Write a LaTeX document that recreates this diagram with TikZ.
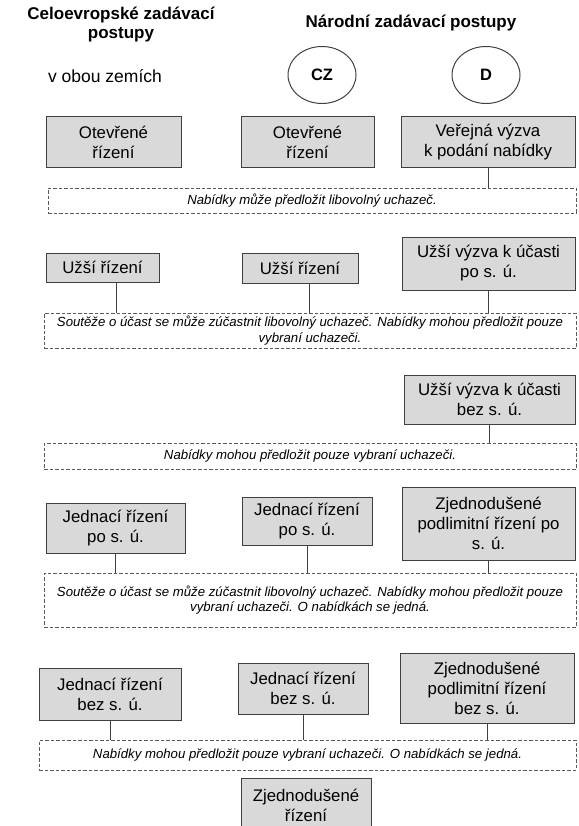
\documentclass[tikz,border=0pt]{standalone}
\usepackage{fontspec}
\setmainfont{Liberation Sans}
\usetikzlibrary{shapes.geometric,calc}
\definecolor{boxfill}{HTML}{D9D9D9}
\definecolor{edge}{HTML}{404040}
\definecolor{dashedge}{HTML}{5A5A5A}
\begin{document}
\begin{tikzpicture}[x=1pt,y=-1pt,
  proc/.style={draw=edge, fill=boxfill, line width=1pt, align=center, inner sep=0pt,
    font=\fontsize{16.8}{20}\selectfont},
  note/.style={draw=dashedge, dash pattern=on 3.5pt off 2pt, line width=0.8pt, align=center,
    inner sep=0pt, font=\fontsize{13.2}{15.5}\selectfont\itshape},
  link/.style={draw=edge, line width=1pt},
  flag/.style={ellipse, draw=edge, line width=1pt, inner sep=0pt,
    minimum width=68, minimum height=57, font=\fontsize{16.5}{18}\selectfont\bfseries},
  heading/.style={align=center, font=\fontsize{17}{19}\selectfont\bfseries},
  plain/.style={align=center, font=\fontsize{17.5}{20}\selectfont}
]
\useasboundingbox (0,0) rectangle (578,826);
\clip (0,0) rectangle (578,826);

% column headings
\node[heading] (euTitle) at (121,24.5) {Celoevropské zadávací\\postupy};
\node[heading] (natTitle) at (411,23) {Národní zadávací postupy};
\node[plain] (both) at (105,76) {v obou zemích};
\node[flag] (cz) at (322,75) {CZ};
\node[flag] (de) at (486,75) {D};

% open procedure
\node[proc, minimum width=135, minimum height=51] (A1) at (113.5,142.5) {Otevřené\\řízení};
\node[proc, minimum width=133, minimum height=51] (B1) at (307.5,142.5) {Otevřené\\řízení};
\node[proc, minimum width=174, minimum height=51] (C1) at (488,142.5) {Veřejná výzva\\k podání nabídky};
\node[note, minimum width=528, minimum height=25] (D1) at (312,200.5) {Nabídky může předložit libovolný uchazeč.};
\draw[link] (C1.south) -- (C1.south |- D1.north);

% restricted procedure
\node[proc, minimum width=113, minimum height=29] (A2) at (102.5,267.5) {Užší řízení};
\node[proc, minimum width=116, minimum height=30] (B2) at (300,268) {Užší řízení};
\node[proc, minimum width=173, minimum height=53] (C2) at (488.5,263.5) {Užší výzva k účasti\\po s. ú.};
\node[note, minimum width=532, minimum height=35] (D2) at (310,330.5) {Soutěže o účast se může zúčastnit libovolný uchazeč. Nabídky mohou předložit pouze\\vybraní uchazeči.};
\coordinate (a2c) at ($(A2.south)+(13.5,0)$);
\coordinate (b2c) at ($(B2.south)+(9,0)$);
\draw[link] (a2c) -- (a2c |- D2.north);
\draw[link] (b2c) -- (b2c |- D2.north);
\draw[link] (C2.south) -- (C2.south |- D2.north);

% restricted call without competition
\node[proc, minimum width=171, minimum height=49] (C3) at (489.5,399.5) {Užší výzva k účasti\\bez s. ú.};
\node[note, minimum width=532, minimum height=26] (D3) at (310,456) {Nabídky mohou předložit pouze vybraní uchazeči.};
\draw[link] (C3.south) -- (C3.south |- D3.north);

% negotiated procedure with publication
\node[proc, minimum width=139, minimum height=50] (A4) at (115.5,528) {Jednací řízení\\po s. ú.};
\node[proc, minimum width=130, minimum height=48] (B4) at (307,521) {Jednací řízení\\po s. ú.};
\node[proc, minimum width=173, minimum height=73] (C4) at (488.5,523.5) {Zjednodušené\\podlimitní řízení po\\s. ú.};
\node[note, minimum width=532, minimum height=54] (D4) at (310,600) {Soutěže o účast se může zúčastnit libovolný uchazeč. Nabídky mohou předložit pouze\\vybraní uchazeči. O nabídkách se jedná.};
\draw[link] (A4.south) -- (A4.south |- D4.north);
\draw[link] (B4.south) -- (B4.south |- D4.north);
\draw[link] (C4.south) -- (C4.south |- D4.north);

% negotiated procedure without publication
\node[proc, minimum width=142, minimum height=52] (A5) at (110,694) {Jednací řízení\\bez s. ú.};
\node[proc, minimum width=130, minimum height=51] (B5) at (303,688.5) {Jednací řízení\\bez s. ú.};
\node[proc, minimum width=174, minimum height=70] (C5) at (487,688) {Zjednodušené\\podlimitní řízení\\bez s. ú.};
\node[note, minimum width=537, minimum height=30] (D5) at (307.5,755) {Nabídky mohou předložit pouze vybraní uchazeči. O nabídkách se jedná.};
\draw[link] (A5.south) -- (A5.south |- D5.north);
\draw[link] (B5.south) -- (B5.south |- D5.north);
\draw[link] (C5.south) -- (C5.south |- D5.north);

% simplified procedure
\node[proc, minimum width=130, minimum height=54] (E) at (306,805) {Zjednodušené\\řízení};
\end{tikzpicture}
\end{document}
